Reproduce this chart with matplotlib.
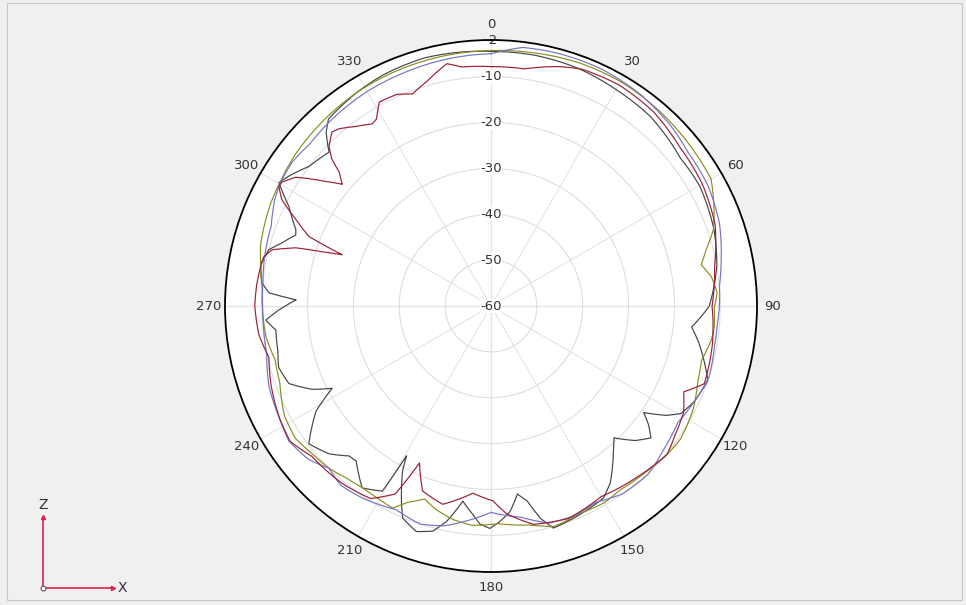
import numpy as np
import matplotlib.pyplot as plt
from matplotlib.patches import Rectangle
from matplotlib.lines import Line2D

# angle (deg, clockwise from top) and gain (dB)
black_deg = [0, 10, 20, 30, 40, 52, 60, 71, 80, 90, 96, 100, 109, 115, 119.5, 122, 124.9, 127, 129.5, 133,
             137, 140, 142.4, 146, 149.6, 156.7, 164.3, 166.9, 169.5, 172, 174.7, 177.6, 180.3, 182.9, 185,
             188.2, 191.6, 194.5, 198.3, 202.6, 204.3, 208.2, 209.4, 210.4, 215.3, 221, 223.4, 227.6, 232.9,
             239, 242.6, 245, 249, 253.9, 258, 263.6, 266.4, 268.9, 271.8, 273.4, 275.8, 280, 284.2, 286.8,
             290, 291.4, 296.2, 300.2, 302.7, 307.5, 313.5, 316.5, 319, 328, 335, 345, 355, 360]
black_db = [-4.5, -4.5, -4.8, -5.5, -6, -7.6, -7.5, -8.6, -10, -12.4, -16, -14, -10, -11, -12.4, -15, -19.4, -17,
            -14.8, -17, -20.7, -18.5, -16.5, -13.5, -11.5, -10.6, -9.7, -12.5, -16.8, -18.6, -15, -13, -11.5,
            -12.4, -14.4, -17, -12.1, -9.3, -8.2, -9.9, -12.6, -19.2, -22.5, -13.2, -11.4, -15.2, -15, -12.2,
            -10.2, -15.5, -21, -17, -12.8, -11.8, -12.5, -12.8, -10.8, -13.7, -17.5, -11.5, -9.8, -9, -10,
            -12.4, -14.7, -14.3, -10.9, -6.5, -7.6, -10, -11.3, -7.8, -6, -5, -4.4, -4, -4.3, -4.5]

red_deg = [0, 8, 16, 21, 30, 40, 50, 60, 70, 80, 90, 100, 110, 114, 119, 125, 130, 140, 150, 160, 169, 175.6,
           179.4, 185.5, 193.7, 200.3, 204.5, 207, 212, 220, 230, 236, 242, 250, 257, 263, 270, 275, 280.7,
           282.2, 284.4, 286.6, 287.8, 289, 290.9, 293.9, 297, 299.4, 300.6, 303.4, 307, 309.3, 311.4, 312.7,
           314.6, 317.6, 319.4, 323, 326.9, 328.5, 331.3, 336, 339.7, 344, 349.7, 353, 360]
red_db = [-7.8, -7.8, -5.7, -4.7, -4.3, -4.8, -6.2, -6.8, -8, -10.5, -11.8, -11, -10.5, -14, -12, -11, -9.8, -11,
          -12, -10.7, -11.5, -14.5, -17.5, -19, -15.5, -17, -22.4, -14, -10.5, -9.5, -9, -7.2, -7.8, -9, -10.3,
          -9, -8.5, -8.7, -9.1, -9.3, -10.7, -15.6, -21.3, -25.7, -17.5, -13.5, -8.8, -6.9, -7, -9, -14.9,
          -18.1, -15.9, -12.8, -10.4, -8.6, -9.1, -11, -12.6, -12.2, -9.3, -9.5, -10.7, -9.1, -6.3, -7.5, -7.8]

blue_deg = [0, 7, 15, 25, 35, 45, 52, 61, 70, 78.6, 85, 90, 95, 100, 108, 115, 122, 130, 137, 145, 152, 158,
            165, 172, 180, 186, 192, 198, 205, 213.8, 220, 225, 230, 236.3, 242.2, 250, 258, 265, 270, 276,
            282, 290, 296, 300, 306, 312, 320, 330, 340, 350, 360]
blue_db = [-5, -3.2, -3, -3, -3.5, -4.5, -5.5, -5.9, -7, -8.8, -10, -10.2, -10.5, -10.5, -10, -11, -12, -11,
           -9.8, -10, -11.5, -10.8, -11, -13.5, -15, -13, -11, -10, -11, -9.6, -9, -10, -8, -7, -7.8, -8.5,
           -10, -10.2, -10.2, -10, -9.5, -9, -7.5, -6.8, -6.5, -7, -6.5, -6, -5.7, -5.3, -5]

olive_deg = [0, 10, 20, 30, 40, 50, 60, 66.6, 71, 75.3, 78.9, 82.5, 86.7, 90.3, 95.4, 98.8, 104.5, 110, 117,
             125, 130.6, 137, 145, 150, 157, 164, 170, 178, 185, 190, 195, 199, 203, 206, 210, 215, 220, 225,
             230, 236, 242, 250, 256, 262, 268, 274, 280, 285, 290, 295, 300, 308, 318, 328, 340, 350, 360]
olive_db = [-4.3, -4, -3.6, -3.5, -3.8, -4.2, -4.6, -7, -8.7, -11.5, -13.3, -11.5, -10.6, -11.3, -11.1, -11.4,
            -12.6, -12, -10.5, -9.5, -9.8, -10.5, -11, -10.5, -10.8, -10, -11.5, -12.5, -12, -12.7, -14, -15.5,
            -13.5, -11, -11.3, -11.5, -11, -10, -9.5, -8.5, -9, -11, -11.5, -10.5, -10.2, -10, -9, -8, -7.5,
            -7, -6.7, -6, -5.5, -5, -4.7, -4.5, -4.3]

ring_values = [-50, -40, -30, -20, -10]
r_label_values = [-60, -50, -40, -30, -20, -10, -2]
angle_ticks = list(range(0, 360, 30))

W, H = 966, 605
fig = plt.figure(figsize=(W / 100, H / 100), dpi=100, facecolor='#f0f0f0')

# panel frame
fig.add_artist(Rectangle((7 / W, 1 - 600 / H), 955 / W, 597 / H, transform=fig.transFigure,
                         fill=False, ec='#c8c8c8', lw=0.8))

cx, cy, R = 491, 306, 266
ax = fig.add_axes([(cx - R) / W, (H - cy - R) / H, 2 * R / W, 2 * R / H], projection='polar')
ax.set_facecolor('white')
ax.set_theta_zero_location('N')
ax.set_theta_direction(-1)
ax.set_ylim(-60, -2)

ax.set_yticks(ring_values)
ax.set_yticklabels([])
ax.yaxis.grid(True, color='#dedede', lw=0.8)
ax.set_thetagrids(angle_ticks, [str(a) for a in angle_ticks], fontsize=9.5, color='#333333')
ax.xaxis.grid(True, color='#e4e4e4', lw=0.8)
ax.tick_params(axis='x', pad=1)
ax.vlines(np.deg2rad([0, 90, 180, 270]), -60, -2, color='#c4c4c4', lw=0.8, zorder=1)
ax.spines['polar'].set_color('black')
ax.spines['polar'].set_linewidth(1.3)

for v in r_label_values:
    box = None if v == -2 else dict(fc='white', ec='none', pad=0.5)
    ax.text(0, v, str(v), ha='center', va='center', fontsize=9.5, color='#333333', zorder=2, bbox=box)

traces = [
    (black_deg, black_db, '#444444'),
    (olive_deg, olive_db, '#8c8c1e'),
    (blue_deg, blue_db, '#7474c2'),
    (red_deg, red_db, '#9a1e34'),
]
for deg, db, col in traces:
    line, = ax.plot(np.deg2rad(deg), db, color=col, lw=0.85, zorder=3,
                    solid_joinstyle='round')
    # let the polar transform bend each segment along the angle
    line.get_path()._interpolation_steps = 16

# axis indicator (bottom left)
def fx(x):
    return x / W

def fy(y):
    return 1 - y / H

axis_red = '#e0204f'
ox, oy = 43, 588
fig.add_artist(Line2D([fx(ox), fx(ox)], [fy(oy), fy(519)], color=axis_red, lw=1.2))
fig.add_artist(Line2D([fx(ox), fx(111)], [fy(oy), fy(oy)], color=axis_red, lw=1.2))
fig.add_artist(Line2D([fx(ox)], [fy(517)], marker='^', ms=3, color=axis_red, lw=0))
fig.add_artist(Line2D([fx(113)], [fy(oy)], marker='>', ms=3, color=axis_red, lw=0))
fig.add_artist(Line2D([fx(ox)], [fy(oy)], marker='o', ms=3.5, mfc='white', mec='#555555', mew=0.8, lw=0))
fig.text(fx(ox), fy(505), 'Z', ha='center', va='center', fontsize=10, color='#333333')
fig.text(fx(122), fy(oy), 'X', ha='center', va='center', fontsize=10, color='#333333')

fig.savefig('out.png', dpi=100, facecolor=fig.get_facecolor())
